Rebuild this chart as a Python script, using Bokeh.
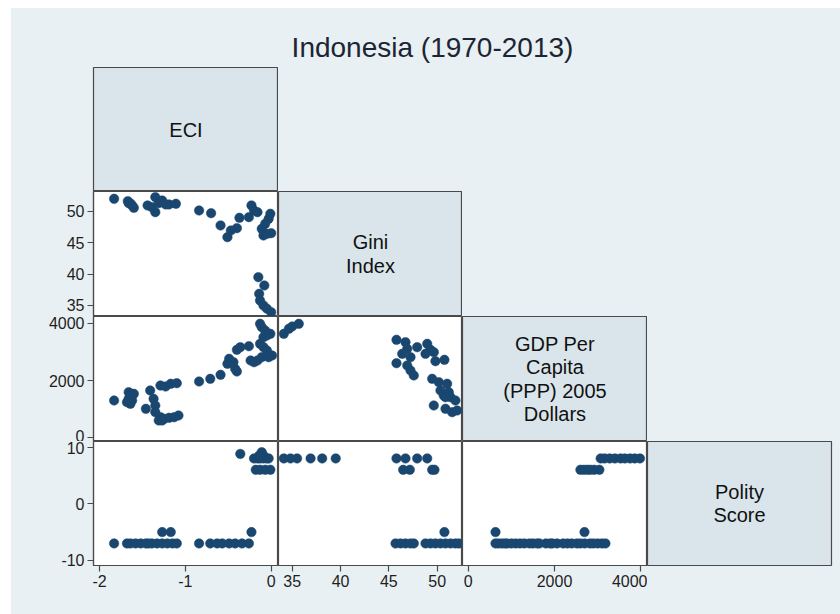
from bokeh.plotting import figure
from bokeh.layouts import column, row
from bokeh.models import Range1d, FixedTicker
from bokeh.core.properties import value
from bokeh.embed import file_html
from bokeh.resources import INLINE

# ---------------- data ----------------
title_text = "Indonesia (1970-2013)"
var_labels = ["ECI", "Gini\nIndex", "GDP Per\nCapita\n(PPP) 2005\nDollars", "Polity\nScore"]

eci_ticks = [-2, -1, 0]
gini_ticks = [35, 40, 45, 50]
gdp_ticks = [0, 2000, 4000]
polity_ticks = [-10, 0, 10]

# ECI (x) vs Gini (y)
eg_eci = [-1.83, -1.67, -1.66, -1.64, -1.62, -1.60, -1.44, -1.39, -1.35, -1.35, -1.31, -1.27, -1.23, -1.19,
          -1.11, -0.84, -0.70, -0.59, -0.51, -0.47, -0.40, -0.37, -0.26, -0.23, -0.20, -0.16, -0.01, -0.03,
          -0.07, -0.11, -0.09, -0.05, 0.00, -0.15, -0.08, -0.14, -0.13, -0.09, -0.05, 0.00]
eg_gini = [51.96, 51.58, 51.26, 51.22, 50.90, 50.53, 50.90, 50.63, 52.22, 49.83, 51.26, 51.69, 51.06, 51.06,
           51.17, 50.10, 49.67, 47.72, 45.86, 46.92, 47.29, 48.94, 49.04, 50.90, 50.10, 49.83, 49.58, 48.78,
           47.99, 47.19, 46.13, 46.40, 46.49, 39.50, 38.18, 36.86, 35.79, 35.00, 34.48, 33.93]

# ECI (x) vs GDP (y)
ed_eci = [-1.83, -1.66, -1.64, -1.66, -1.62, -1.60, -1.64, -1.68, -1.46, -1.41, -1.35, -1.37, -1.29, -1.23,
          -1.17, -1.10, -1.35, -1.29, -1.25, -1.19, -1.13, -1.08, -1.31, -1.27, -0.84, -0.71, -0.59, -0.51,
          -0.49, -0.44, -0.42, -0.40, -0.40, -0.36, -0.26, -0.24, -0.20, -0.16, -0.13, -0.11, -0.07, -0.01,
          -0.05, -0.09, -0.13, -0.09, -0.05, 0.01, -0.03, -0.11]
ed_gdp = [1302, 1592, 1476, 1361, 1302, 1536, 1187, 1243, 1012, 1651, 1127, 1361, 1825, 1791,
          1885, 1906, 894, 719, 663, 698, 719, 778, 604, 604, 1965, 2059, 2199, 2583,
          2757, 2639, 2408, 2314, 3072, 3162, 3197, 2698, 2639, 2698, 3979, 3860, 3745, 3630,
          3571, 3511, 3281, 3162, 3047, 2873, 2813, 2813]

# ECI (x) vs Polity (y)
ep_eci = [-1.83, -1.68, -1.64, -1.58, -1.52, -1.46, -1.43, -1.39, -1.33, -1.27, -1.21, -1.15, -1.10,
          -0.84, -0.71, -0.63, -0.57, -0.49, -0.42, -0.34, -0.26,
          -1.27, -1.17, -0.23,
          -0.36, -0.20, -0.16, -0.13, -0.09, -0.05, -0.03, -0.14, -0.09, -0.11,
          -0.18, -0.13, -0.07, -0.01]
ep_pol = [-7, -7, -7, -7, -7, -7, -7, -7, -7, -7, -7, -7, -7,
          -7, -7, -7, -7, -7, -7, -7, -7,
          -5, -5, -5,
          8.8, 8, 8, 8, 8, 8, 8, 8.5, 8.5, 9.1,
          6, 6, 6, 6]

# Gini (x) vs GDP (y)
gd_gini = [34.13, 34.65, 35.00, 35.68, 45.79, 46.72, 46.38, 46.90, 47.24, 47.93, 45.79, 46.90, 47.24, 47.58,
           48.97, 49.31, 48.79, 49.65, 49.82, 50.75, 49.48, 50.17, 51.03, 50.34, 50.68, 51.38, 51.89, 49.65,
           50.86, 51.55, 52.07, 50.86, 51.20]
gd_gdp = [3630, 3804, 3885, 3979, 3420, 3337, 2932, 3106, 2813, 3162, 2604, 2524, 2349, 2175,
          3281, 3072, 2932, 2988, 2674, 2723, 2059, 1941, 1885, 1651, 1476, 1417, 1302, 1127,
          1012, 894, 953, 1417, 1592]

# Gini (x) vs Polity (y)
gp_gini = [34.13, 34.82, 35.50, 36.90, 38.10, 39.50, 45.79, 46.72, 47.93, 48.97,
           46.48, 47.17, 49.48, 49.72,
           50.75,
           45.69, 46.21, 46.72, 47.24, 47.58, 48.79, 49.31, 49.82, 50.34, 50.86, 51.38, 51.89, 52.24]
gp_pol = [8, 8, 8, 8, 8, 8, 8, 8, 8, 8,
          6, 6, 6, 6,
          -5,
          -7, -7, -7, -7, -7, -7, -7, -7, -7, -7, -7, -7, -7]

# GDP (x) vs Polity (y)
dp_gdp = [633, 700, 780, 850, 900, 1000, 1100, 1200, 1300, 1420, 1500, 1600, 1650, 1800, 1900, 1950,
          2060, 2200, 2300, 2400, 2520, 2600, 2700, 2820, 2900, 3000, 3100, 3180,
          633, 2695,
          2600, 2680, 2760, 2830, 2920, 3040,
          3070, 3160, 3280, 3400, 3530, 3630, 3750, 3860, 3980]
dp_pol = [-7] * 28 + [-5, -5] + [6] * 6 + [8] * 9

# ---------------- style ----------------
BG = "#e9f0f3"
DIAG = "#d9e5eb"
EDGE = "#4a4a4a"
MARK = "#1a476f"
FONT = "Liberation Sans"

x_ranges = [(-2.070, 0.085), (33.58, 52.62), (-132, 4155)]
y_ranges = [None, (33.25, 53.12), (-129, 4234), (-10.89, 10.99)]
x_ticks = [eci_ticks, gini_ticks, gdp_ticks]
y_ticks = [None, gini_ticks, gdp_ticks, polity_ticks]

fw = [185, 184, 185, 184]
fh = [124, 125, 125, 124]
LEFT, BOTTOM, RIGHT = 82, 49, 9
WHITE_TOP, WHITE_LEFT = 8, 11
CW = 829            # width of the tinted graph region
TH = 59             # title strip height


def hyphen_labels(ticks):
    return {t: str(t) for t in ticks if t < 0}


def blank(w, h, color):
    b = figure(width=w, height=h, x_range=Range1d(0, 1), y_range=Range1d(0, 1),
               output_backend="svg", toolbar_location=None, tools="",
               x_axis_location=None, y_axis_location=None, min_border=0)
    b.border_fill_color = color
    b.background_fill_color = color
    b.outline_line_color = None
    b.grid.visible = False
    return b


def make(r, c, diag=False):
    w = fw[c] + (LEFT if c == 0 else 0) + (RIGHT if c == 3 else 0)
    h = fh[r] + (BOTTOM if r == 3 else 0)
    if diag:
        xr, yr = Range1d(0, 1), Range1d(0, 1)
    else:
        xr = Range1d(*x_ranges[c])
        yr = Range1d(*y_ranges[r])
    p = figure(width=w, height=h, x_range=xr, y_range=yr, output_backend="svg",
               toolbar_location=None, tools="",
               x_axis_location=("below" if (r == 3 and not diag) else None),
               y_axis_location=("left" if (c == 0 and not diag) else None))
    p.min_border_left = LEFT if c == 0 else 0
    p.min_border_right = RIGHT if c == 3 else 0
    p.min_border_top = 0
    p.min_border_bottom = BOTTOM if r == 3 else 0
    p.border_fill_color = BG
    p.background_fill_color = DIAG if diag else "white"
    p.outline_line_color = EDGE
    p.outline_line_width = 1.2
    p.grid.visible = False
    for ax in p.axis:
        ax.axis_line_color = EDGE
        ax.axis_line_width = 1.2
        ax.major_tick_line_color = EDGE
        ax.major_tick_line_width = 1.2
        ax.major_tick_out = 6
        ax.major_tick_in = 0
        ax.minor_tick_line_color = None
        ax.major_label_text_font = FONT
        ax.major_label_text_font_size = "16px"
        ax.major_label_text_color = "#1e1e1e"
        ax.major_label_standoff = 3
    if r == 3 and not diag:
        p.xaxis.ticker = FixedTicker(ticks=x_ticks[c])
        p.xaxis.major_label_overrides = hyphen_labels(x_ticks[c])
    if c == 0 and not diag:
        p.yaxis.ticker = FixedTicker(ticks=y_ticks[r])
        p.yaxis.major_label_overrides = hyphen_labels(y_ticks[r])
    if diag:
        p.text(x=[0.5], y=[0.5], text=[var_labels[r]], text_align="center",
               text_baseline="middle", text_font=value(FONT), text_font_size="20px",
               text_color="#111111", text_line_height=1.05)
    return p


def pts(p, xs, ys):
    p.scatter(xs, ys, size=9.5, fill_color=MARK, line_color=MARK, line_width=0.5)


f00 = make(0, 0, diag=True)
f11 = make(1, 1, diag=True)
f22 = make(2, 2, diag=True)
f33 = make(3, 3, diag=True)

f10 = make(1, 0); pts(f10, eg_eci, eg_gini)
f20 = make(2, 0); pts(f20, ed_eci, ed_gdp)
f30 = make(3, 0); pts(f30, ep_eci, ep_pol)
f21 = make(2, 1); pts(f21, gd_gini, gd_gdp)
f31 = make(3, 1); pts(f31, gp_gini, gp_pol)
f32 = make(3, 2); pts(f32, dp_gdp, dp_pol)

# title strip
t = figure(width=CW, height=TH, x_range=Range1d(0, CW), y_range=Range1d(0, TH),
           output_backend="svg", toolbar_location=None, tools="",
           x_axis_location=None, y_axis_location=None, min_border=0)
t.border_fill_color = BG
t.background_fill_color = BG
t.outline_line_color = None
t.grid.visible = False
t.text(x=[421], y=[20], text=[title_text], text_align="center", text_baseline="middle",
       text_font=value(FONT), text_font_size="28px", text_color="#1c2533")

w0 = fw[0] + LEFT
row0 = row(f00, blank(CW - w0, fh[0], BG), styles={"background-color": BG})
row1 = row(f10, f11, blank(CW - w0 - fw[1], fh[1], BG), styles={"background-color": BG})
row2 = row(f20, f21, f22, blank(CW - w0 - fw[1] - fw[2], fh[2], BG), styles={"background-color": BG})
row3 = row(f30, f31, f32, f33, styles={"background-color": BG})
graph = column(t, row0, row1, row2, row3, styles={"background-color": BG})
total_h = TH + sum(fh) + BOTTOM

layout = column(blank(WHITE_LEFT + CW, WHITE_TOP, "white"),
                row(blank(WHITE_LEFT, total_h, "white"), graph))

open("out.html", "w").write(file_html(layout, INLINE))
